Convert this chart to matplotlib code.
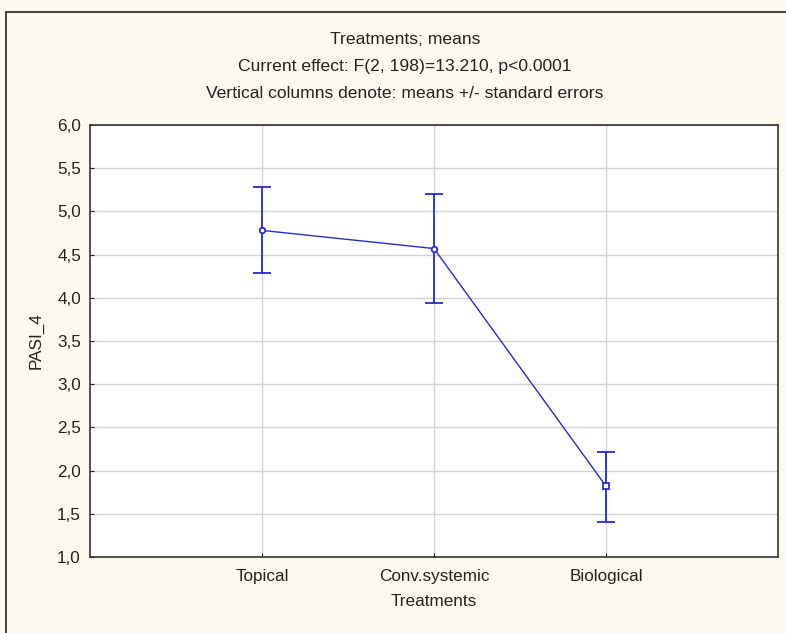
import numpy as np
import matplotlib.pyplot as plt
from matplotlib.patches import Rectangle
from matplotlib.ticker import FuncFormatter

treatments = ["Topical", "Conv.systemic", "Biological"]
means = [4.78, 4.57, 1.82]
upper = [5.28, 5.20, 2.22]
lower = [4.29, 3.94, 1.41]
markers = ["o", "o", "s"]

plt.rcParams['font.family'] = ['Liberation Sans', 'DejaVu Sans']
blue = "#2b2bbf"
fs = 12.3

fig = plt.figure(figsize=(7.86, 6.33), dpi=100, facecolor="#fdf9ee")
ax = fig.add_axes([90 / 786, 1 - 557 / 633, 688 / 786, 432 / 633])
ax.set_facecolor("white")

# outer frame of the graph window
fig.patches.append(Rectangle((6 / 786, -0.1), 1.0, 1 - 12 / 633 + 0.1,
                             transform=fig.transFigure, fill=False,
                             edgecolor="#222222", lw=1.2))

x = np.arange(1, len(treatments) + 1)
m = np.array(means)
yerr = [m - np.array(lower), np.array(upper) - m]

ax.plot(x, m, color=blue, lw=1, zorder=3)
ax.errorbar(x, m, yerr=yerr, fmt="none", ecolor=blue, elinewidth=1.3,
            capsize=6.5, capthick=1.3, zorder=3)
for xi, yi, mk in zip(x, m, markers):
    ax.plot(xi, yi, marker=mk, markersize=4, markerfacecolor="white",
            markeredgecolor=blue, markeredgewidth=1.3, zorder=4)

ax.set_xlim(0, 4)
ax.set_ylim(1.0, 6.0)
ax.set_xticks(x)
ax.set_xticklabels(treatments)
ax.set_yticks(np.arange(1.0, 6.01, 0.5))
ax.yaxis.set_major_formatter(FuncFormatter(lambda v, p: f"{v:.1f}".replace(".", ",")))
ax.grid(True, color="#d4d4d4", lw=1)
ax.set_axisbelow(True)
ax.tick_params(direction="in", length=3, labelsize=fs, colors="#222222")
ax.tick_params(axis="y", pad=6.5)
ax.tick_params(axis="x", pad=8.5)
for s in ax.spines.values():
    s.set_color("#333333")
    s.set_linewidth(1.2)

ax.set_xlabel("Treatments", fontsize=fs, labelpad=7, color="#222222")
ax.set_ylabel("PASI_4", fontsize=fs, labelpad=10, color="#222222")

titles = ["Treatments; means",
          "Current effect: F(2, 198)=13.210, p<0.0001",
          "Vertical columns denote: means +/- standard errors"]
for t, yy in zip(titles, [40, 67, 94]):
    fig.text(405 / 786, 1 - yy / 633, t, ha="center", va="center",
             fontsize=12.6, color="#222222")

fig.savefig("out.png", dpi=100, facecolor=fig.get_facecolor())
